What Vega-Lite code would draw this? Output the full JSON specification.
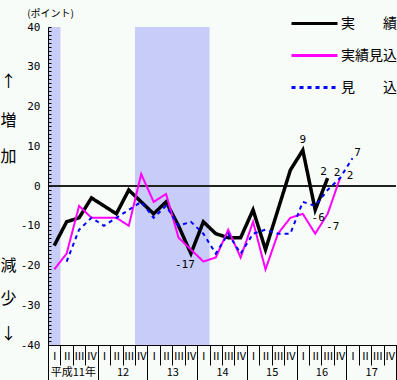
{
  "$schema": "https://vega.github.io/schema/vega-lite/v6.json",
  "autosize": {"type": "none"},
  "padding": {"left": 48, "top": 27, "right": 1, "bottom": 35},
  "width": 348,
  "height": 318,
  "background": "#f7fcf9",
  "datasets": {
    "shade": [{"start": -0.5, "end": 0.5}, {"start": 6.5, "end": 12.5}],
    "pts": [
      {"s": "実　　績", "q": 0, "v": -15}, {"s": "実　　績", "q": 1, "v": -9}, {"s": "実　　績", "q": 2, "v": -8}, {"s": "実　　績", "q": 3, "v": -3},
      {"s": "実　　績", "q": 4, "v": -5}, {"s": "実　　績", "q": 5, "v": -7}, {"s": "実　　績", "q": 6, "v": -1}, {"s": "実　　績", "q": 7, "v": -4},
      {"s": "実　　績", "q": 8, "v": -7}, {"s": "実　　績", "q": 9, "v": -4}, {"s": "実　　績", "q": 10, "v": -10}, {"s": "実　　績", "q": 11, "v": -17},
      {"s": "実　　績", "q": 12, "v": -9}, {"s": "実　　績", "q": 13, "v": -12}, {"s": "実　　績", "q": 14, "v": -13}, {"s": "実　　績", "q": 15, "v": -13},
      {"s": "実　　績", "q": 16, "v": -6}, {"s": "実　　績", "q": 17, "v": -16}, {"s": "実　　績", "q": 18, "v": -6}, {"s": "実　　績", "q": 19, "v": 4},
      {"s": "実　　績", "q": 20, "v": 9}, {"s": "実　　績", "q": 21, "v": -6}, {"s": "実　　績", "q": 22, "v": 2},
      {"s": "実績見込", "q": 0, "v": -21}, {"s": "実績見込", "q": 1, "v": -17}, {"s": "実績見込", "q": 2, "v": -5}, {"s": "実績見込", "q": 3, "v": -8},
      {"s": "実績見込", "q": 4, "v": -8}, {"s": "実績見込", "q": 5, "v": -8}, {"s": "実績見込", "q": 6, "v": -10}, {"s": "実績見込", "q": 7, "v": 3},
      {"s": "実績見込", "q": 8, "v": -4}, {"s": "実績見込", "q": 9, "v": -2}, {"s": "実績見込", "q": 10, "v": -13}, {"s": "実績見込", "q": 11, "v": -16},
      {"s": "実績見込", "q": 12, "v": -19}, {"s": "実績見込", "q": 13, "v": -18}, {"s": "実績見込", "q": 14, "v": -11}, {"s": "実績見込", "q": 15, "v": -18},
      {"s": "実績見込", "q": 16, "v": -9}, {"s": "実績見込", "q": 17, "v": -21}, {"s": "実績見込", "q": 18, "v": -12}, {"s": "実績見込", "q": 19, "v": -8},
      {"s": "実績見込", "q": 20, "v": -7}, {"s": "実績見込", "q": 21, "v": -12}, {"s": "実績見込", "q": 22, "v": -7}, {"s": "実績見込", "q": 23, "v": 2},
      {"s": "見　　込", "q": 1, "v": -19}, {"s": "見　　込", "q": 2, "v": -11}, {"s": "見　　込", "q": 3, "v": -8},
      {"s": "見　　込", "q": 4, "v": -10}, {"s": "見　　込", "q": 5, "v": -8}, {"s": "見　　込", "q": 6, "v": -6}, {"s": "見　　込", "q": 7, "v": -4},
      {"s": "見　　込", "q": 8, "v": -8}, {"s": "見　　込", "q": 9, "v": -5}, {"s": "見　　込", "q": 10, "v": -10}, {"s": "見　　込", "q": 11, "v": -9},
      {"s": "見　　込", "q": 12, "v": -12}, {"s": "見　　込", "q": 13, "v": -17}, {"s": "見　　込", "q": 14, "v": -12}, {"s": "見　　込", "q": 15, "v": -17},
      {"s": "見　　込", "q": 16, "v": -12}, {"s": "見　　込", "q": 17, "v": -11}, {"s": "見　　込", "q": 18, "v": -12}, {"s": "見　　込", "q": 19, "v": -12},
      {"s": "見　　込", "q": 20, "v": -4}, {"s": "見　　込", "q": 21, "v": -5}, {"s": "見　　込", "q": 22, "v": -1}, {"s": "見　　込", "q": 23, "v": 2},
      {"s": "見　　込", "q": 24, "v": 7}
    ]
  },
  "resolve": {"axis": {"x": "independent", "y": "independent"}},
  "layer": [
    {
      "data": {"name": "shade"},
      "mark": {"type": "rect", "color": "#c8ccf8"},
      "encoding": {
        "x": {"field": "start", "type": "quantitative", "scale": {"domain": [-0.5, 27.5], "nice": false, "zero": false},
          "axis": {"orient": "bottom", "values": [-0.5,0.5,1.5,2.5,3.5,4.5,5.5,6.5,7.5,8.5,9.5,10.5,11.5,12.5,13.5,14.5,15.5,16.5,17.5,18.5,19.5,20.5,21.5,22.5,23.5,24.5,25.5,26.5,27.5],
            "tickSize": 20, "tickColor": "#000", "labels": false, "domain": true, "domainColor": "#000", "grid": false, "title": null, "zindex": 1}},
        "x2": {"field": "end"}
      }
    },
    {
      "data": {"name": "pts"},
      "mark": {"type": "rule", "color": "#222", "strokeWidth": 1},
      "encoding": {"y": {"datum": 0, "type": "quantitative", "axis": null}}
    },
    {
      "data": {"name": "pts"},
      "mark": {"type": "line", "strokeJoin": "miter"},
      "encoding": {
        "x": {"field": "q", "type": "quantitative", "scale": {"domain": [-0.5, 27.5], "nice": false, "zero": false},
          "axis": {"orient": "bottom", "values": [0,1,2,3,4,5,6,7,8,9,10,11,12,13,14,15,16,17,18,19,20,21,22,23,24,25,26,27],
            "ticks": false, "domain": false, "grid": false, "title": null, "labelOverlap": false, "labelPadding": 5,
            "labelExpr": "['Ⅰ','Ⅱ','Ⅲ','Ⅳ'][datum.value % 4]", "labelFont": "Noto Sans CJK JP", "labelFontSize": 11, "labelColor": "#000"}},
        "y": {"field": "v", "type": "quantitative", "scale": {"domain": [-40, 40], "nice": false, "zero": false},
          "axis": {"orient": "left", "values": [-40,-39,-38,-37,-36,-35,-34,-33,-32,-31,-30,-29,-28,-27,-26,-25,-24,-23,-22,-21,-20,-19,-18,-17,-16,-15,-14,-13,-12,-11,-10,-9,-8,-7,-6,-5,-4,-3,-2,-1,0,1,2,3,4,5,6,7,8,9,10,11,12,13,14,15,16,17,18,19,20,21,22,23,24,25,26,27,28,29,30,31,32,33,34,35,36,37,38,39,40],
            "labelExpr": "datum.value % 10 == 0 ? toString(datum.value) : ''", "labelOverlap": false, "labelBound": false,
            "tickSize": -3, "tickColor": "#000", "domainColor": "#000", "labelPadding": 11, "grid": false, "zindex": 1,
            "labelFont": "DejaVu Sans Mono", "labelFontSize": 11, "labelColor": "#000",
            "title": "(ポイント)", "titleAngle": 0, "titleX": 2, "titleY": -14, "titleAlign": "center", "titleBaseline": "middle",
            "titleFont": "Noto Sans CJK JP", "titleFontSize": 10, "titleFontWeight": "normal", "titleColor": "#000"}},
        "color": {"field": "s", "type": "nominal",
          "scale": {"domain": ["実　　績", "実績見込", "見　　込"], "range": ["#000000", "#ff00ff", "#0000ff"]},
          "legend": {"orient": "none", "legendX": 242, "legendY": -28, "title": null, "symbolType": "stroke", "symbolSize": 2116,
            "symbolStrokeWidth": 3, "labelFont": "Noto Sans CJK JP", "labelFontSize": 14, "labelLimit": 0, "labelOffset": 2,
            "rowPadding": -18, "labelColor": "#000"}},
        "strokeDash": {"field": "s", "type": "nominal",
          "scale": {"domain": ["実　　績", "実績見込", "見　　込"], "range": [[1, 0], [1, 0], [4, 4]]},
          "legend": {"orient": "none", "legendX": 242, "legendY": -28, "title": null, "symbolType": "stroke", "symbolSize": 2116,
            "symbolStrokeWidth": 3, "labelFont": "Noto Sans CJK JP", "labelFontSize": 14, "labelLimit": 0, "labelOffset": 2,
            "rowPadding": -18, "labelColor": "#000"}},
        "strokeWidth": {"condition": {"test": "datum.s === '実　　績'", "value": 3.5}, "value": 2}
      }
    },
    {
      "data": {"name": "pts"},
      "transform": [{"filter": "datum.s === '実　　績' && datum.q === 20"}],
      "mark": {"type": "text", "dy": -10, "font": "DejaVu Sans Mono", "fontSize": 11, "color": "#000"},
      "encoding": {
        "x": {"field": "q", "type": "quantitative",
          "axis": {"orient": "bottom", "values": [-0.5,3.5,7.5,11.5,15.5,19.5,23.5,27.5], "tickSize": 35, "tickColor": "#000",
            "labels": false, "domain": false, "grid": false, "title": null}},
        "y": {"field": "v", "type": "quantitative", "axis": null},
        "text": {"field": "v", "type": "nominal"}
      }
    },
    {
      "data": {"name": "pts"},
      "transform": [{"filter": "datum.s === '実　　績' && datum.q === 21"}],
      "mark": {"type": "text", "dx": 3, "dy": 8, "font": "DejaVu Sans Mono", "fontSize": 11, "color": "#000"},
      "encoding": {
        "x": {"field": "q", "type": "quantitative",
          "axis": {"orient": "bottom", "values": [1.5,5.5,9.5,13.5,17.5,21.5,25.5], "ticks": false, "domain": false, "grid": false, "title": null,
            "labelPadding": 21, "labelOverlap": false,
            "labelExpr": "datum.value < 2 ? '平成11年' : toString(11 + floor(datum.value / 4))",
            "labelFont": "Noto Sans CJK JP", "labelFontSize": 11, "labelColor": "#000"}},
        "y": {"field": "v", "type": "quantitative", "axis": null},
        "text": {"field": "v", "type": "nominal"}
      }
    },
    {
      "data": {"name": "pts"},
      "transform": [{"filter": "datum.s === '実　　績' && datum.q === 22"}],
      "mark": {"type": "text", "dx": -4, "dy": -6, "font": "DejaVu Sans Mono", "fontSize": 11, "color": "#000"},
      "encoding": {
        "x": {"field": "q", "type": "quantitative", "axis": null},
        "y": {"field": "v", "type": "quantitative",
          "axis": {"orient": "left", "offset": 40, "values": [26.2, 16.6, 7.3, -19.9, -28.2, -37], "domain": false, "ticks": false,
            "grid": false, "title": null, "labelOverlap": false, "labelAlign": "center", "labelBaseline": "middle", "labelPadding": 0,
            "labelExpr": "datum.value > 20 ? '↑' : datum.value > 10 ? '増' : datum.value > 0 ? '加' : datum.value > -25 ? '減' : datum.value > -32 ? '少' : '↓'",
            "labelFont": "Noto Sans CJK JP", "labelFontSize": 16, "labelColor": "#000"}},
        "text": {"field": "v", "type": "nominal"}
      }
    },
    {
      "data": {"name": "pts"},
      "transform": [{"filter": "datum.s === '見　　込' && datum.q === 23"}],
      "mark": {"type": "text", "dx": -3, "dy": -5, "font": "DejaVu Sans Mono", "fontSize": 11, "color": "#000"},
      "encoding": {
        "x": {"field": "q", "type": "quantitative", "axis": null},
        "y": {"field": "v", "type": "quantitative", "axis": null},
        "text": {"field": "v", "type": "nominal"}
      }
    },
    {
      "data": {"name": "pts"},
      "transform": [{"filter": "datum.s === '実績見込' && datum.q === 23"}],
      "mark": {"type": "text", "dx": 10, "dy": -2, "font": "DejaVu Sans Mono", "fontSize": 11, "color": "#000"},
      "encoding": {
        "x": {"field": "q", "type": "quantitative", "axis": null},
        "y": {"field": "v", "type": "quantitative", "axis": null},
        "text": {"field": "v", "type": "nominal"}
      }
    },
    {
      "data": {"name": "pts"},
      "transform": [{"filter": "datum.s === '見　　込' && datum.q === 24"}],
      "mark": {"type": "text", "dx": 5, "dy": -5, "font": "DejaVu Sans Mono", "fontSize": 11, "color": "#000"},
      "encoding": {
        "x": {"field": "q", "type": "quantitative", "axis": null},
        "y": {"field": "v", "type": "quantitative", "axis": null},
        "text": {"field": "v", "type": "nominal"}
      }
    },
    {
      "data": {"name": "pts"},
      "transform": [{"filter": "datum.s === '実績見込' && datum.q === 22"}],
      "mark": {"type": "text", "dx": 5, "dy": 13, "font": "DejaVu Sans Mono", "fontSize": 11, "color": "#000"},
      "encoding": {
        "x": {"field": "q", "type": "quantitative", "axis": null},
        "y": {"field": "v", "type": "quantitative", "axis": null},
        "text": {"field": "v", "type": "nominal"}
      }
    },
    {
      "data": {"name": "pts"},
      "transform": [{"filter": "datum.s === '実　　績' && datum.q === 11"}],
      "mark": {"type": "text", "dx": -6, "dy": 11, "font": "DejaVu Sans Mono", "fontSize": 11, "color": "#000"},
      "encoding": {
        "x": {"field": "q", "type": "quantitative", "axis": null},
        "y": {"field": "v", "type": "quantitative", "axis": null},
        "text": {"field": "v", "type": "nominal"}
      }
    }
  ],
  "config": {"view": {"stroke": null}, "axis": {"grid": false}}
}
